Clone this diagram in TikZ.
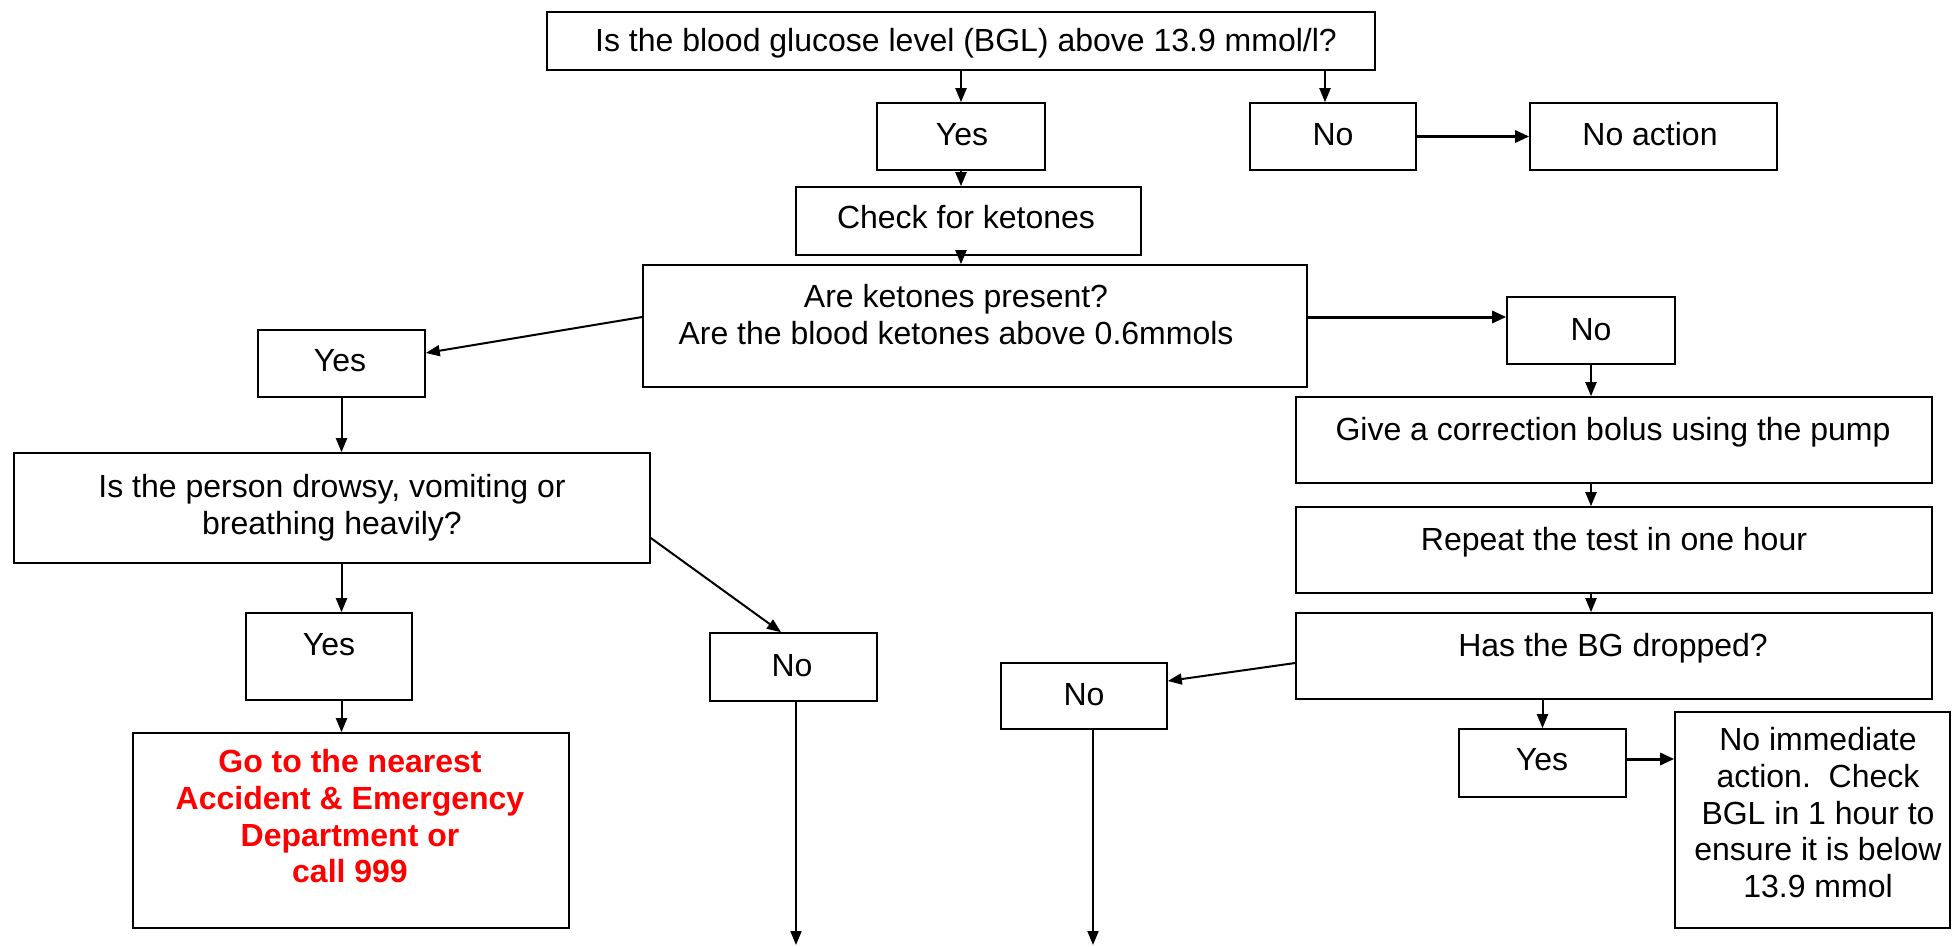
\documentclass[tikz,border=0pt]{standalone}
\usepackage{fontspec}
\setmainfont{Liberation Sans}
\usetikzlibrary{arrows.meta,calc}
\begin{document}
\begin{tikzpicture}[x=1pt,y=-1pt,
  box/.style={draw, line width=1.6pt, rectangle, inner sep=0pt, fill=white},
  txt/.style={font=\fontsize{32}{36.7}\selectfont, align=center, inner sep=0pt, anchor=north, execute at begin node=\strut},
  redtxt/.style={txt, text=red, font=\fontsize{32}{36.7}\selectfont\bfseries},
  arr/.style={line width=2pt, -{Triangle[length=14pt,width=11pt]}},
  tarr/.style={line width=3pt, -{Triangle[length=14pt,width=12pt]}}]
\useasboundingbox (0,0) rectangle (1952,947);
% boxes
\node[box, minimum width=828pt, minimum height=58pt] (top) at (961,41) {};
\node[box, minimum width=168pt, minimum height=67pt] (yesA) at (961,136.5) {};
\node[box, minimum width=166pt, minimum height=67pt] (noA) at (1333,136.5) {};
\node[box, minimum width=247pt, minimum height=67pt] (noaction) at (1653.5,136.5) {};
\node[box, minimum width=345pt, minimum height=68pt] (check) at (968.5,221) {};
\node[box, minimum width=664pt, minimum height=122pt] (ket) at (975,326) {};
\node[box, minimum width=167pt, minimum height=67pt] (yesB) at (341.5,363.5) {};
\node[box, minimum width=168pt, minimum height=67pt] (noB) at (1591,330.5) {};
\node[box, minimum width=636pt, minimum height=110pt] (drowsy) at (332,508) {};
\node[box, minimum width=636pt, minimum height=86pt] (give) at (1614,440) {};
\node[box, minimum width=636pt, minimum height=86pt] (repeat) at (1614,550) {};
\node[box, minimum width=636pt, minimum height=86pt] (bg) at (1614,656) {};
\node[box, minimum width=166pt, minimum height=87pt] (yesC) at (329,656.5) {};
\node[box, minimum width=167pt, minimum height=68pt] (noC) at (793.5,667) {};
\node[box, minimum width=166pt, minimum height=66pt] (noD) at (1084,696) {};
\node[box, minimum width=167pt, minimum height=68pt] (yesD) at (1542.5,763) {};
\node[box, minimum width=436pt, minimum height=195pt] (red) at (351,830.5) {};
\node[box, minimum width=275pt, minimum height=216pt] (noimm) at (1812.5,820) {};
% texts
\node[txt] (ttop) at (966,25.3) {Is the blood glucose level (BGL) above 13.9 mmol/l?};
\node[txt] (tyesA) at (962,119.3) {Yes};
\node[txt] (tnoA) at (1333,119.3) {No};
\node[txt] (tnoaction) at (1650,119.3) {No action};
\node[txt] (tcheck) at (966,202.3) {Check for ketones};
\node[txt] (tket) at (956,284.3) {Are ketones present?\\Are the blood ketones above 0.6mmols};
\node[txt] (tyesB) at (340,345.3) {Yes};
\node[txt] (tnoB) at (1591,314.3) {No};
\node[txt] (tdrowsy) at (332,474.3) {Is the person drowsy, vomiting or\\breathing heavily?};
\node[txt] (tgive) at (1613,414.3) {Give a correction bolus using the pump};
\node[txt] (trepeat) at (1614,524.3) {Repeat the test in one hour};
\node[txt] (tbg) at (1613,630.3) {Has the BG dropped?};
\node[txt] (tyesC) at (329,629.3) {Yes};
\node[txt] (tnoC) at (792,650.3) {No};
\node[txt] (tnoD) at (1084,679.3) {No};
\node[txt] (tyesD) at (1542,744.3) {Yes};
\node[redtxt] (tred) at (350,749.3) {Go to the nearest\\Accident \& Emergency\\Department or\\call 999};
\node[txt] (tnoimm) at (1818,727.3) {No immediate\\action.\ \ Check\\BGL in 1 hour to\\ensure it is below\\13.9 mmol};
% connectors
\coordinate (endC) at (796,945);
\coordinate (endD) at (1093,945);
\draw[arr] (top.south -| yesA.north) -- (yesA.north);
\draw[arr] ([xshift=-8pt]top.south -| noA.north) -- ([xshift=-8pt]noA.north);
\draw[tarr] (noA.east) -- (noaction.west);
\draw[arr] (yesA.south) -- (yesA.south |- check.north);
\draw[arr] (yesA.south |- check.south) -- (yesA.south |- ket.north);
\draw[arr] ([yshift=9pt]ket.west) -- ([yshift=10.5pt]yesB.east);
\draw[tarr] ([yshift=9pt]ket.east) -- ([yshift=9pt]ket.east -| noB.west);
\draw[arr] (noB.south) -- (noB.south |- give.north);
\draw[arr] (give.south -| noB.south) -- (repeat.north -| noB.south);
\draw[arr] (repeat.south -| noB.south) -- (bg.north -| noB.south);
\draw[arr] ([yshift=-7pt]bg.west) -- ([yshift=15pt]noD.east);
\draw[arr] (bg.south -| yesD.north) -- (yesD.north);
\draw[tarr] ([yshift=4pt]yesD.east) -- ([yshift=4pt]yesD.east -| noimm.west);
\draw[arr] (yesB.south) -- (yesB.south |- drowsy.north);
\draw[arr] (drowsy.south -| yesB.south) -- (yesC.north -| yesB.south);
\draw[arr] (yesC.south -| yesB.south) -- (red.north -| yesB.south);
\draw[arr] ([yshift=-30pt]drowsy.east) -- ([xshift=-12.5pt]noC.north);
\draw[arr] (noC.south -| endC) -- (endC);
\draw[arr] (noD.south -| endD) -- (endD);
\end{tikzpicture}
\end{document}
